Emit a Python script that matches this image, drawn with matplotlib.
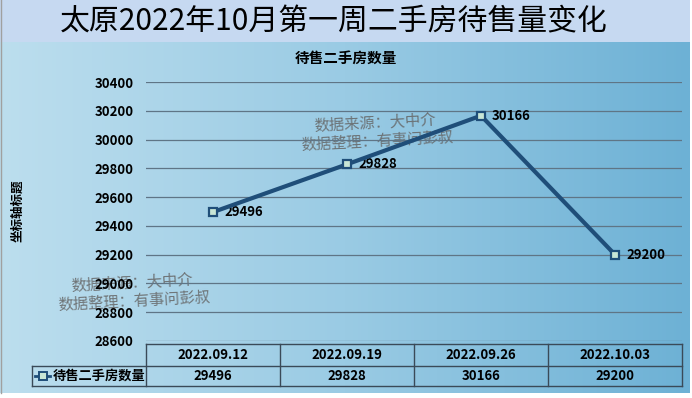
import numpy as np
import matplotlib
matplotlib.use("Agg")
import matplotlib.pyplot as plt
from matplotlib.patches import Rectangle
from matplotlib.colors import LinearSegmentedColormap

plt.rcParams['font.family'] = ['Noto Sans CJK SC', 'DejaVu Sans']

# données
dates = ["2022.09.12", "2022.09.19", "2022.09.26", "2022.10.03"]
stock = [29496, 29828, 30166, 29200]
serie = "待售二手房数量"
titre = "太原2022年10月第一周二手房待售量变化"
y_ticks = [28600, 28800, 29000, 29200, 29400, 29600, 29800, 30000, 30200, 30400]

W, H = 692, 398
fig = plt.figure(figsize=(W / 100, H / 100), dpi=100)
fig.patch.set_facecolor("white")

# fond en pixels
bg = fig.add_axes([0, 0, 1, 1])
bg.set_xlim(0, W)
bg.set_ylim(H, 0)
bg.axis("off")

cmap = LinearSegmentedColormap.from_list("fond", ["#bcdeee", "#9acbe4", "#6db1d5"])
grad = np.linspace(0, 1, 256).reshape(1, -1)
bg.imshow(grad, cmap=cmap, aspect="auto", extent=[0, 690, 393, 42], zorder=0)
bg.add_patch(Rectangle((0, 0), 690, 42, facecolor="#c6d9f1", edgecolor="none", zorder=1))
bg.plot([0.5, 0.5], [0, 393], color="#a0a0a0", lw=1, zorder=2)
bg.set_xlim(0, W)
bg.set_ylim(H, 0)

bg.text(334, 22, titre, fontsize=21.5, ha="center", va="center", color="black", zorder=3)
bg.text(346, 58, serie, fontsize=10.5, fontweight="bold", ha="center", va="center", zorder=3)
bg.text(18, 211, "坐标轴标题", fontsize=9, fontweight="bold", rotation=90,
        ha="center", va="center", zorder=3)

# filigranes
for cx, cy in [(375, 123), (132, 283)]:
    bg.text(cx, cy, "数据来源：大中介", fontsize=11, color="#646464", alpha=0.85,
            ha="center", va="center", rotation=3, zorder=6)
    bg.text(cx + 2, cy + 18, "数据整理：有事问彭叔", fontsize=11, color="#646464", alpha=0.85,
            ha="center", va="center", rotation=3, zorder=6)

# graphique principal
x0, x1, ytop, ybot = 146, 682, 82, 341
ax = fig.add_axes([x0 / W, (H - ybot) / H, (x1 - x0) / W, (ybot - ytop) / H], zorder=5)
ax.patch.set_visible(False)
x = np.arange(len(dates))
ax.plot(x, stock, color="#1f4e79", lw=3, marker="s", markersize=6,
        markerfacecolor="#c8e6d6", markeredgecolor="#1f4e79", markeredgewidth=1.6, zorder=4)
for xi, v in zip(x, stock):
    ax.annotate(str(v), (xi, v), xytext=(8, 0), textcoords="offset points",
                fontsize=9.5, fontweight="bold", va="center", ha="left")
ax.set_xlim(-0.5, len(dates) - 0.5)
ax.set_ylim(y_ticks[0], y_ticks[-1])
ax.set_yticks(y_ticks)
ax.set_yticklabels([str(t) for t in y_ticks], fontsize=9.5, fontweight="bold")
ax.tick_params(axis="y", length=0, pad=9)
ax.set_xticks([])
ax.grid(axis="y", color="#5f7586", lw=0.9)
for s in ax.spines.values():
    s.set_visible(False)

# tableau de données
t_top, t_mid, t_bot = 344, 366, 386
col_w = (x1 - x0) / len(dates)
lc = "#3a4a58"
bg.plot([x0, x1], [t_top, t_top], color=lc, lw=1, zorder=4)
bg.plot([32, x1], [t_mid, t_mid], color=lc, lw=1, zorder=4)
bg.plot([32, x1], [t_bot, t_bot], color=lc, lw=1, zorder=4)
bg.plot([32, 32], [t_mid, t_bot], color=lc, lw=1, zorder=4)
for i in range(len(dates) + 1):
    bg.plot([x0 + i * col_w] * 2, [t_top, t_bot], color=lc, lw=1, zorder=4)
for i, (d, v) in enumerate(zip(dates, stock)):
    cx = x0 + (i + 0.5) * col_w
    bg.text(cx, (t_top + t_mid) / 2, d, fontsize=9.5, fontweight="bold", ha="center", va="center", zorder=4)
    bg.text(cx, (t_mid + t_bot) / 2, str(v), fontsize=9.5, fontweight="bold", ha="center", va="center", zorder=4)
bg.plot([35, 50], [376, 376], color="#1f4e79", lw=2, zorder=4)
bg.plot([42.5], [376], marker="s", ms=5.5, markerfacecolor="#c8e6d6",
        markeredgecolor="#1f4e79", markeredgewidth=1.4, zorder=5)
bg.text(53, 376, serie, fontsize=9.5, fontweight="bold", ha="left", va="center", zorder=4)

fig.savefig("out.png", dpi=100)
